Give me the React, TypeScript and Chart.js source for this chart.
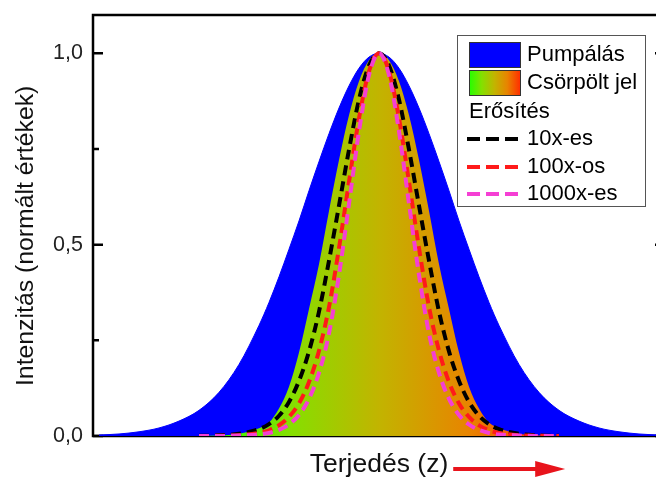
import React, { useEffect, useRef } from "react";
import { Chart, registerables } from "chart.js";

Chart.register(...registerables);

// Propagation coordinate (arbitrary units, peak at 0)
const Z = [-28, -26, -24, -22, -20, -18, -16, -14, -12, -11, -10, -9, -8, -7, -6, -5, -4, -3, -2, -1, 0, 1, 2, 3, 4, 5, 6, 7, 8, 9, 10, 11, 12, 14, 16, 18, 20, 22, 24, 26, 28];

// Pump pulse (blue)
const PUMP = [0.0025, 0.0053, 0.011, 0.021, 0.039, 0.067, 0.114, 0.187, 0.289, 0.349, 0.416, 0.488, 0.562, 0.641, 0.717, 0.79, 0.857, 0.915, 0.961, 0.99, 1.0, 0.99, 0.961, 0.915, 0.857, 0.79, 0.717, 0.641, 0.562, 0.488, 0.416, 0.349, 0.289, 0.187, 0.114, 0.067, 0.039, 0.021, 0.011, 0.0053, 0.0025];

// Chirped signal (gradient fill)
const SIGNAL = [0, 0, 0, 0, 0, 0.0003, 0.0015, 0.006, 0.02, 0.035, 0.072, 0.129, 0.218, 0.332, 0.449, 0.588, 0.721, 0.838, 0.927, 0.982, 1.0, 0.982, 0.927, 0.838, 0.721, 0.588, 0.449, 0.332, 0.218, 0.129, 0.072, 0.035, 0.02, 0.006, 0.0015, 0.0003, 0, 0, 0, 0, 0];

// Amplified signals (dashed)
const AMP10 = [null, null, null, null, null, 0.0005, 0.0017, 0.006, 0.018, 0.031, 0.053, 0.089, 0.144, 0.221, 0.325, 0.458, 0.602, 0.748, 0.879, 0.968, 1.0, 0.968, 0.879, 0.748, 0.602, 0.458, 0.325, 0.221, 0.144, 0.089, 0.053, 0.031, 0.018, 0.006, 0.0017, 0.0005, null, null, null, null, null];
const AMP100 = [null, null, null, null, null, 0.0001, 0.0005, 0.002, 0.008, 0.015, 0.028, 0.05, 0.085, 0.141, 0.223, 0.337, 0.491, 0.664, 0.83, 0.953, 1.0, 0.953, 0.83, 0.664, 0.491, 0.337, 0.223, 0.141, 0.085, 0.05, 0.028, 0.015, 0.008, 0.002, 0.0005, 0.0001, null, null, null, null, null];
const AMP1000 = [null, null, null, null, null, 0, 0.0002, 0.001, 0.004, 0.008, 0.016, 0.03, 0.055, 0.097, 0.165, 0.268, 0.421, 0.607, 0.796, 0.943, 1.0, 0.943, 0.796, 0.607, 0.421, 0.268, 0.165, 0.097, 0.055, 0.03, 0.016, 0.008, 0.004, 0.001, 0.0002, 0, null, null, null, null, null];

const Y_TICKS = [0, 0.25, 0.5, 0.75, 1.0];
const LABELS = ["Pumpálás", "Csörpölt jel", "10x-es", "100x-os", "1000x-es"];
const LEGEND_HEADER = "Erősítés";
const X_TITLE = "Terjedés (z)";
const Y_TITLE = "Intenzitás (normált értékek)\u00a0\u00a0\u00a0";

const FONT = "'Liberation Sans', Arial, Helvetica, sans-serif";
const GRAD_STOPS: [number, string][] = [
  [0, "#22ff00"],
  [0.25, "#84e000"],
  [0.5, "#c2b400"],
  [0.75, "#e88400"],
  [1, "#ff3000"],
];

const pts = (arr: (number | null)[]) => Z.map((z, i) => ({ x: z, y: arr[i] }));

const framePlugin = {
  id: "frame",
  beforeDatasetsDraw(chart: any) {
    const { ctx, chartArea, scales } = chart;
    const { left, right, top, bottom } = chartArea;
    const y = scales.y;
    ctx.save();
    ctx.strokeStyle = "#000";
    ctx.lineWidth = 2.5;
    ctx.strokeRect(left, top, right - left, bottom - top);
    Y_TICKS.forEach((v) => {
      const py = y.getPixelForValue(v);
      const len = Math.abs(v % 0.5) < 1e-9 ? 10 : 6;
      ctx.beginPath();
      ctx.moveTo(left, py);
      ctx.lineTo(left + len, py);
      ctx.moveTo(right, py);
      ctx.lineTo(right - len, py);
      ctx.stroke();
    });
    ctx.restore();
  },
};

const legendPlugin = {
  id: "customLegend",
  afterDraw(chart: any) {
    const { ctx, chartArea } = chart;
    const ds = chart.data.datasets;
    const boxR = chartArea.right - 20;
    const boxT = chartArea.top + 20;
    const boxL = boxR - 188;
    const boxB = boxT + 171;
    ctx.save();
    ctx.fillStyle = "#fff";
    ctx.fillRect(boxL, boxT, boxR - boxL, boxB - boxT);
    ctx.strokeStyle = "#555";
    ctx.lineWidth = 1;
    ctx.strokeRect(boxL + 0.5, boxT + 0.5, boxR - boxL, boxB - boxT);
    const rows = [boxT + 20, boxT + 48, boxT + 77, boxT + 104, boxT + 132, boxT + 159];
    const sx = boxL + 12;
    const sw = 51;
    const tx = boxL + 70;
    ctx.font = `22px ${FONT}`;
    ctx.textBaseline = "middle";
    ctx.fillStyle = ds[0].borderColor;
    ctx.fillRect(sx, rows[0] - 12.5, sw, 25);
    ctx.strokeStyle = "#333";
    ctx.strokeRect(sx + 0.5, rows[0] - 12.5, sw, 25);
    const g = ctx.createLinearGradient(sx, 0, sx + sw, 0);
    GRAD_STOPS.forEach(([o, c]) => g.addColorStop(o, c));
    ctx.fillStyle = g;
    ctx.fillRect(sx, rows[1] - 12.5, sw, 25);
    ctx.strokeRect(sx + 0.5, rows[1] - 12.5, sw, 25);
    ctx.fillStyle = "#000";
    ctx.fillText(ds[0].label, tx, rows[0]);
    ctx.fillText(ds[1].label, tx, rows[1]);
    ctx.fillText(LEGEND_HEADER, sx, rows[2]);
    for (let i = 2; i < 5; i++) {
      const r = rows[i + 1];
      ctx.save();
      ctx.strokeStyle = ds[i].borderColor;
      ctx.lineWidth = 4;
      ctx.setLineDash([13, 6]);
      ctx.beginPath();
      ctx.moveTo(sx - 2, r);
      ctx.lineTo(sx - 2 + sw, r);
      ctx.stroke();
      ctx.restore();
      ctx.fillStyle = "#000";
      ctx.fillText(ds[i].label, tx, r);
    }
    ctx.restore();
  },
};

const arrowPlugin = {
  id: "arrow",
  afterDraw(chart: any) {
    const { ctx, scales } = chart;
    const x = scales.x;
    const tf = x.options.title.font;
    ctx.save();
    ctx.font = `${tf.size}px ${FONT}`;
    const w = ctx.measureText(X_TITLE).width;
    const cx = (x.left + x.right) / 2;
    const cy = x.bottom - (tf.size * tf.lineHeight) / 2 + 4;
    const x0 = cx + w / 2 + 5;
    const x1 = x0 + 82;
    const tip = x0 + 112;
    ctx.strokeStyle = "#e8141c";
    ctx.fillStyle = "#e8141c";
    ctx.lineWidth = 4;
    ctx.beginPath();
    ctx.moveTo(x0, cy);
    ctx.lineTo(x1 + 2, cy);
    ctx.stroke();
    ctx.beginPath();
    ctx.moveTo(x1, cy - 8);
    ctx.lineTo(tip, cy);
    ctx.lineTo(x1, cy + 8);
    ctx.closePath();
    ctx.fill();
    ctx.restore();
  },
};

export default function App() {
  const ref = useRef<HTMLCanvasElement>(null);
  useEffect(() => {
    const gradientFill = (c: any) => {
      const chart = c.chart;
      if (!chart.chartArea) return "#c2b400";
      const sx = chart.scales.x;
      const g = chart.ctx.createLinearGradient(sx.getPixelForValue(-18), 0, sx.getPixelForValue(18), 0);
      GRAD_STOPS.forEach(([o, col]) => g.addColorStop(o, col));
      return g;
    };
    const dashed = (label: string, data: (number | null)[], color: string, order: number) => ({
      label,
      data: pts(data),
      borderColor: color,
      backgroundColor: color,
      borderWidth: 4,
      borderDash: [10, 6],
      fill: false,
      pointRadius: 0,
      cubicInterpolationMode: "monotone" as const,
      spanGaps: false,
      order,
    });
    const chart = new Chart(ref.current!, {
      type: "line",
      data: {
        datasets: [
          {
            label: LABELS[0],
            data: pts(PUMP),
            borderColor: "#0000ff",
            backgroundColor: "#0000ff",
            borderWidth: 1,
            fill: "origin",
            pointRadius: 0,
            cubicInterpolationMode: "monotone",
            order: 5,
          },
          {
            label: LABELS[1],
            data: pts(SIGNAL),
            borderColor: "rgba(0,0,0,0)",
            backgroundColor: gradientFill,
            borderWidth: 1,
            fill: "origin",
            pointRadius: 0,
            cubicInterpolationMode: "monotone",
            order: 4,
          },
          dashed(LABELS[2], AMP10, "#000000", 3),
          dashed(LABELS[3], AMP100, "#ff1a1a", 2),
          dashed(LABELS[4], AMP1000, "#f53fd4", 1),
        ] as any,
      },
      options: {
        animation: false,
        responsive: false,
        layout: { padding: { top: 15, right: 15, left: 0, bottom: 0 } },
        plugins: { legend: { display: false }, tooltip: { enabled: false } },
        scales: {
          x: {
            type: "linear",
            min: -28.6,
            max: 28.6,
            grid: { display: false, drawTicks: false },
            border: { display: false },
            ticks: { display: false },
            title: {
              display: true,
              text: X_TITLE,
              color: "#111",
              font: { family: FONT, size: 26.5, lineHeight: 1.06 },
              padding: { top: 0, bottom: 0 },
            },
            afterFit: (s: any) => {
              s.height = 43;
            },
          },
          y: {
            type: "linear",
            min: 0,
            max: 1.1,
            grid: { display: false, drawTicks: false },
            border: { display: false },
            ticks: {
              stepSize: 0.25,
              includeBounds: false,
              autoSkip: false,
              padding: 10,
              color: "#222",
              font: { family: FONT, size: 21.5 },
              callback: (v: any) => (Math.abs(v % 0.5) < 1e-9 ? Number(v).toFixed(1).replace(".", ",") : ""),
            },
            title: {
              display: true,
              text: Y_TITLE,
              color: "#111",
              font: { family: FONT, size: 24.8, lineHeight: 1.2 },
              padding: { top: 11, bottom: 0 },
            },
            afterFit: (s: any) => {
              s.width = 93;
              s.paddingTop = 0;
              s.paddingBottom = 0;
            },
          },
        },
      } as any,
      plugins: [framePlugin, legendPlugin, arrowPlugin],
    });
    return () => chart.destroy();
  }, []);
  return (
    <div style={{ position: "fixed", left: 0, top: 0, width: 656, height: 479, overflow: "hidden", background: "#fff" }}>
      <canvas ref={ref} width={680} height={479} style={{ display: "block", width: 680, height: 479 }} />
    </div>
  );
}
